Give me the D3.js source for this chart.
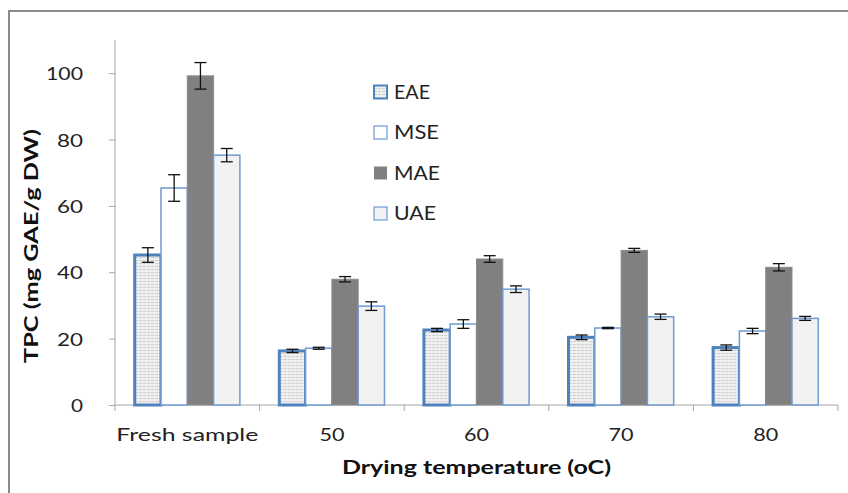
<!DOCTYPE html>
<html><head><meta charset="utf-8">
<script src="https://cdn.jsdelivr.net/npm/d3@7"></script>
<style>body{margin:0;background:#fff}svg{display:block}</style>
</head><body>
<script>
const categories = ["Fresh sample", "50", "60", "70", "80"];
const seriesNames = ["EAE", "MSE", "MAE", "UAE"];
const EAE = [45.2, 16.3, 22.6, 20.4, 17.3];
const EAE_err = [2.2, 0.5, 0.5, 0.7, 0.8];
const MSE = [65.4, 17.1, 24.4, 23.2, 22.3];
const MSE_err = [4.0, 0.3, 1.3, 0.2, 0.8];
const MAE = [99.2, 37.9, 44.0, 46.6, 41.5];
const MAE_err = [4.0, 0.8, 1.0, 0.6, 1.1];
const UAE = [75.3, 29.8, 34.9, 26.6, 26.1];
const UAE_err = [2.0, 1.3, 1.0, 0.8, 0.6];
const yTicks = [0, 20, 40, 60, 80, 100];
const xTitle = "Drying temperature (oC)";
const yTitle = "TPC (mg GAE/g DW)";

(function() {
const values = {EAE, MSE, MAE, UAE};
const errors = {EAE: EAE_err, MSE: MSE_err, MAE: MAE_err, UAE: UAE_err};

const W = 848, H = 493;
const pLeft = 115, pRight = 838, pTop = 40, pBottom = 405;
const FONT = "Lato, 'Open Sans', sans-serif";

const styles = {
  EAE: {fill: "url(#eaePat)", stroke: "#4f81bd", sw: 3},
  MSE: {fill: "#ffffff", stroke: "#6f9ad3", sw: 1.5},
  MAE: {fill: "#808080", stroke: "#8c8c8c", sw: 1},
  UAE: {fill: "#f2f2f2", stroke: "#6f9ad3", sw: 1.5}
};

const svg = d3.select("body").append("svg").attr("width", W).attr("height", H);
const defs = svg.append("defs");
const pat = defs.append("pattern").attr("id", "eaePat").attr("patternUnits", "userSpaceOnUse")
  .attr("width", 4).attr("height", 3);
pat.append("rect").attr("width", 4).attr("height", 3).attr("fill", "#f0f0f0");
pat.append("rect").attr("y", 2).attr("width", 3).attr("height", 1).attr("fill", "#cfcfcf");

// outer frame
svg.append("rect").attr("x", 9).attr("y", 11).attr("width", 860).attr("height", 500)
  .attr("fill", "none").attr("stroke", "#8a8a8a").attr("stroke-width", 2);

const x0 = d3.scaleBand().domain(categories).range([pLeft, pRight]).padding(0);
const bw = x0.bandwidth();
const gap = bw * 0.75 / 5.5;
const x1 = d3.scaleBand().domain(seriesNames).range([gap, bw - gap]).padding(0);
const y = d3.scaleLinear().domain([0, 110]).range([pBottom, pTop]);

function fit(sel, width) { sel.attr("textLength", width).attr("lengthAdjust", "spacingAndGlyphs"); }

// y axis
const yAxis = svg.append("g").attr("transform", `translate(${pLeft},0)`)
  .call(d3.axisLeft(y).tickValues(yTicks).tickSize(6).tickPadding(26).tickFormat(d3.format("d")));
yAxis.select(".domain").attr("stroke", "#a6a6a6").attr("d", `M0,${y(110)}V${pBottom}`);
yAxis.selectAll(".tick line").attr("stroke", "#a6a6a6");
yAxis.selectAll(".tick text").attr("font-family", FONT).attr("font-size", 18).attr("fill", "#222")
  .attr("dy", "0.36em")
  .each(function(d) { const n = String(d).length; fit(d3.select(this), n === 3 ? 37 : n === 2 ? 26 : 12); });

// x axis
const xg = svg.append("g").attr("transform", `translate(0,${pBottom})`);
xg.append("line").attr("x1", pLeft).attr("x2", pRight).attr("stroke", "#a6a6a6");
const bounds = categories.map(c => x0(c)).concat([pRight]);
xg.selectAll("line.tk").data(bounds).join("line").attr("class", "tk")
  .attr("x1", d => d).attr("x2", d => d).attr("y1", 0).attr("y2", 6).attr("stroke", "#a6a6a6");
xg.selectAll("text").data(categories).join("text")
  .attr("x", d => x0(d) + bw / 2).attr("y", 36).attr("text-anchor", "middle")
  .attr("font-family", FONT).attr("font-size", 18).attr("fill", "#222").text(d => d)
  .each(function(d) { fit(d3.select(this), d.length > 3 ? 142 : 25); });

// bars
const groups = svg.append("g").selectAll("g").data(categories).join("g")
  .attr("transform", d => `translate(${x0(d)},0)`);
seriesNames.forEach(s => {
  groups.append("rect")
    .attr("x", x1(s)).attr("width", x1.bandwidth())
    .attr("y", (d, i) => y(values[s][i]))
    .attr("height", (d, i) => pBottom - y(values[s][i]))
    .attr("fill", styles[s].fill).attr("stroke", styles[s].stroke).attr("stroke-width", styles[s].sw);
});
// error bars
seriesNames.forEach(s => {
  const cx = x1(s) + x1.bandwidth() / 2;
  const eb = groups.append("g").attr("stroke", "#111").attr("stroke-width", 1.3);
  eb.append("line").attr("x1", cx).attr("x2", cx)
    .attr("y1", (d, i) => y(values[s][i] + errors[s][i])).attr("y2", (d, i) => y(values[s][i] - errors[s][i]));
  eb.append("line").attr("x1", cx - 6).attr("x2", cx + 6)
    .attr("y1", (d, i) => y(values[s][i] + errors[s][i])).attr("y2", (d, i) => y(values[s][i] + errors[s][i]));
  eb.append("line").attr("x1", cx - 6).attr("x2", cx + 6)
    .attr("y1", (d, i) => y(values[s][i] - errors[s][i])).attr("y2", (d, i) => y(values[s][i] - errors[s][i]));
});

// legend
const legendW = {EAE: 36, MSE: 45, MAE: 46, UAE: 42};
const lg = svg.append("g").selectAll("g").data(seriesNames).join("g")
  .attr("transform", (d, i) => `translate(374,${92 + i * 40.5})`);
lg.append("rect").attr("x", 0).attr("y", -6.5).attr("width", 13).attr("height", 13)
  .attr("fill", d => styles[d].fill).attr("stroke", d => styles[d].stroke)
  .attr("stroke-width", d => d === "EAE" ? 2 : (d === "MAE" ? 0 : 1.2));
lg.append("text").attr("x", 20).attr("y", 0).attr("dy", "0.36em")
  .attr("font-family", FONT).attr("font-size", 19).attr("fill", "#222").text(d => d)
  .each(function(d) { fit(d3.select(this), legendW[d]); });

// titles
svg.append("text").attr("x", (pLeft + pRight) / 2).attr("y", 474).attr("text-anchor", "middle")
  .attr("font-family", FONT).attr("font-weight", "bold").attr("font-size", 19).attr("fill", "#111")
  .text(xTitle).call(fit, 269);
svg.append("text").attr("transform", "translate(38,246) rotate(-90)").attr("text-anchor", "middle")
  .attr("font-family", FONT).attr("font-weight", "bold").attr("font-size", 19).attr("fill", "#111")
  .text(yTitle).call(fit, 234);
})();
</script>
</body></html>
